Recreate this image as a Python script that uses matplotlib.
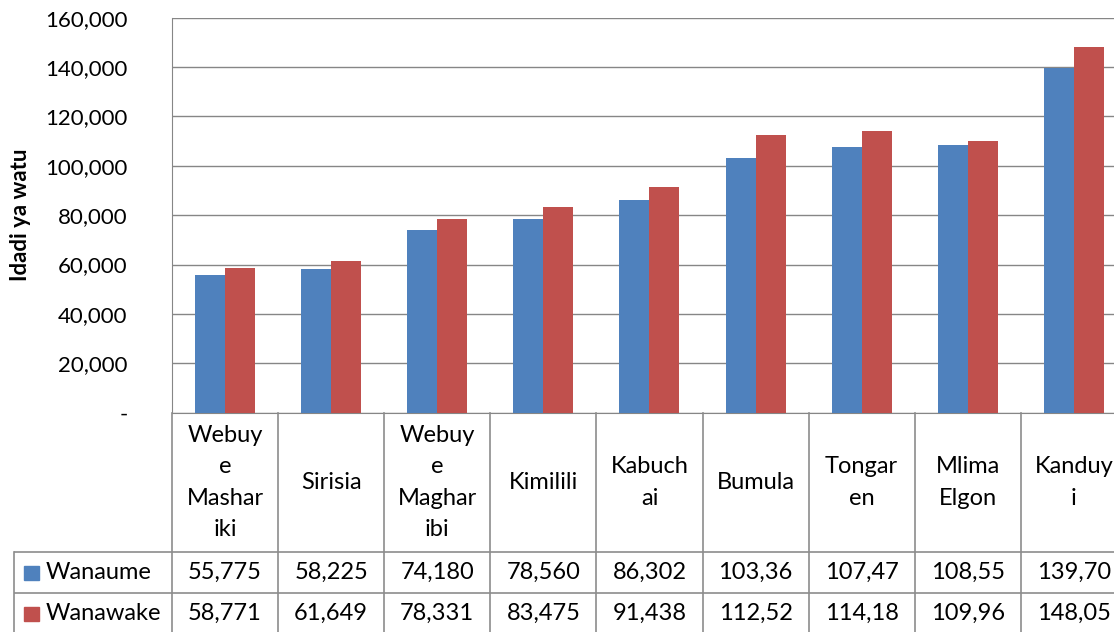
import matplotlib
matplotlib.use("Agg")
import matplotlib.pyplot as plt
from matplotlib.patches import Rectangle

plt.rcParams['font.family'] = ['Lato', 'DejaVu Sans']

# data
categories = ["Webuy\ne\nMashar\niki", "Sirisia", "Webuy\ne\nMaghar\nibi", "Kimilili",
              "Kabuch\nai", "Bumula", "Tongar\nen", "Mlima\nElgon", "Kanduy\ni"]
series_names = ["Wanaume", "Wanawake"]
wanaume = [55775, 58225, 74180, 78560, 86302, 103360, 107470, 108550, 139700]
wanawake = [58771, 61649, 78331, 83475, 91438, 112520, 114180, 109960, 148050]
yticks = [0, 20000, 40000, 60000, 80000, 100000, 120000, 140000, 160000]
ytick_labels = ["-", "20,000", "40,000", "60,000", "80,000", "100,000",
                "120,000", "140,000", "160,000"]

colors = ["#4F81BD", "#C0504D"]
grid_c = "#868686"
line_c = "#8C8C8C"
W, H = 1114, 632
FS = 16
TFS = 17

fig = plt.figure(figsize=(W / 100, H / 100), dpi=100)

# pixel geometry of plot area
left, top, bottom = 172, 17.7, 412.7
colw = 106.1
n = len(categories)
right = left + n * colw

ax = fig.add_axes([left / W, 1 - bottom / H, (right - left) / W, (bottom - top) / H])
x = list(range(n))
bw = 0.283
ax.bar([i - bw / 2 for i in x], wanaume, width=bw, color=colors[0], zorder=3)
ax.bar([i + bw / 2 for i in x], wanawake, width=bw, color=colors[1], zorder=3)
ax.set_xlim(-0.5, n - 0.5)
ax.set_ylim(0, 160000)
ax.set_yticks(yticks)
ax.set_yticklabels(ytick_labels, fontsize=FS)
ax.set_xticks([])
ax.tick_params(axis='y', length=0, pad=32)
ax.yaxis.grid(True, color=grid_c, lw=1)
ax.set_axisbelow(True)
for s in ['top', 'right']:
    ax.spines[s].set_visible(False)
ax.spines['left'].set_color(grid_c)
ax.spines['bottom'].set_color(grid_c)
ax.set_ylabel("Idadi ya watu", fontsize=FS, fontweight='bold', labelpad=10)

# data table under the chart
tbl_left = 14
tbl_bottom = 634
xl = -0.5 - (left - tbl_left) / colw
tax = fig.add_axes([tbl_left / W, 1 - tbl_bottom / H, (right - tbl_left) / W, (tbl_bottom - bottom) / H])
tax.set_xlim(xl, n - 0.5)
tax.set_ylim(tbl_bottom, bottom)
tax.axis('off')

row1, row2 = 552.3, 593.3
for k in range(n + 1):
    tax.plot([k - 0.5, k - 0.5], [bottom, tbl_bottom], color=line_c, lw=1.2, clip_on=False)
tax.plot([xl, xl], [row1, tbl_bottom], color=line_c, lw=1.2, clip_on=False)
for yy in [row1, row2]:
    tax.plot([xl, n - 0.5], [yy, yy], color=line_c, lw=1.2)

for i, cat in enumerate(categories):
    tax.text(i, (bottom + row1) / 2, cat, ha='center', va='center', fontsize=TFS, linespacing=1.6)

rows_y = [(row1 + row2) / 2, row2 + (row2 - row1) / 2]
for vals, yy in zip([wanaume, wanawake], rows_y):
    for i, v in enumerate(vals):
        tax.text(i, yy, f"{v:,}"[:6], ha='center', va='center', fontsize=TFS)

sq = 15 / colw
for name, c, yy in zip(series_names, colors, rows_y):
    tax.add_patch(Rectangle((xl + 10 / colw, yy - 7), sq, 14, color=c))
    tax.text(xl + 32 / colw, yy, name, ha='left', va='center', fontsize=TFS)

fig.savefig("out.png", dpi=100)
